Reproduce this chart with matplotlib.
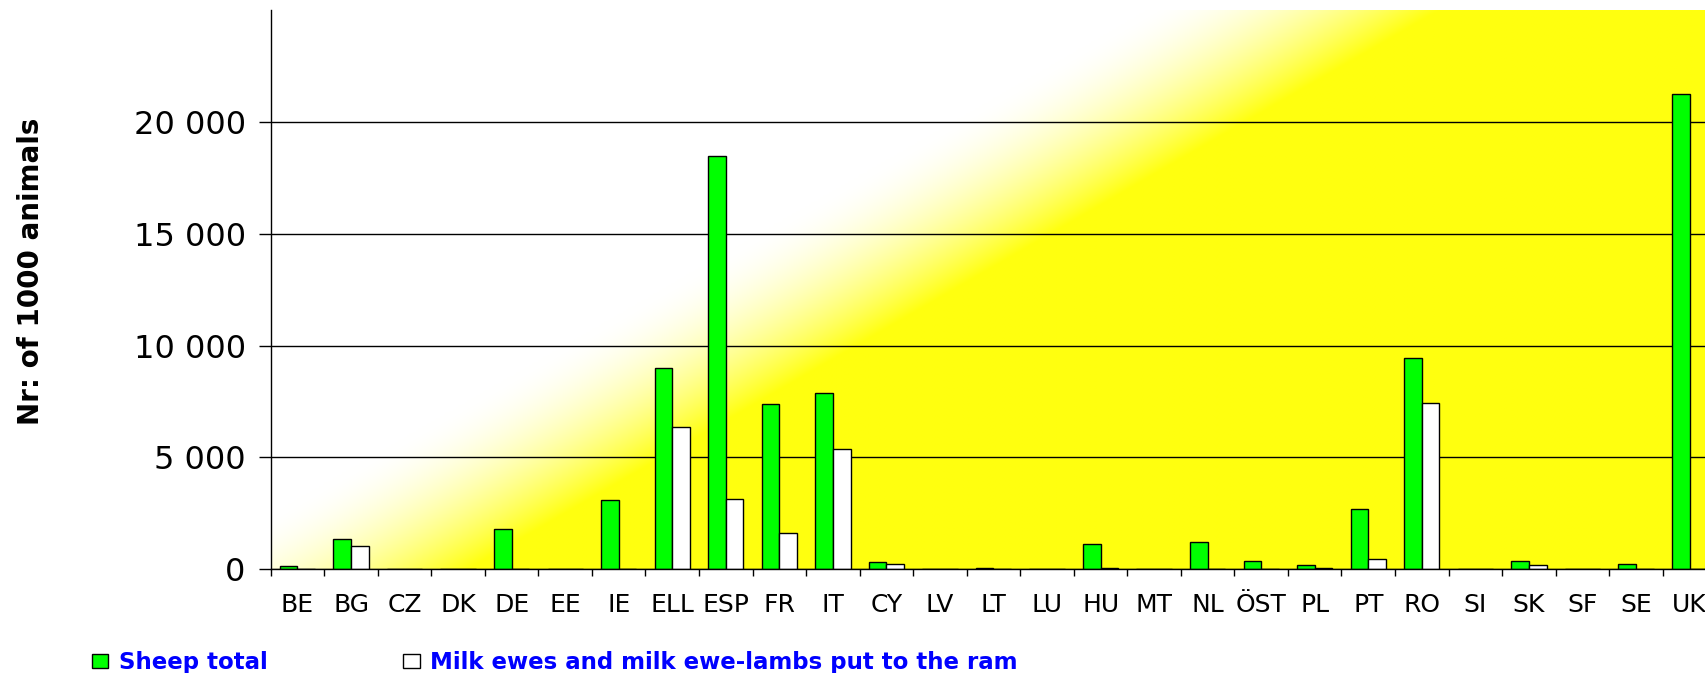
import numpy as np
import matplotlib
matplotlib.use("Agg")
import matplotlib.pyplot as plt
from matplotlib.patches import Patch

# data (1000 animals)
countries = ['BE', 'BG', 'CZ', 'DK', 'DE', 'EE', 'IE', 'ELL', 'ESP', 'FR', 'IT', 'CY', 'LV', 'LT',
             'LU', 'HU', 'MT', 'NL', 'ÖST', 'PL', 'PT', 'RO', 'SI', 'SK', 'SF', 'SE', 'UK']
sheep_total = [140, 1340, 0, 0, 1800, 0, 3080, 9000, 18470, 7390, 7890, 310, 0, 70,
               0, 1140, 0, 1220, 380, 190, 2700, 9440, 0, 380, 0, 250, 21260]
milk_ewes = [0, 1030, 0, 0, 0, 0, 0, 6370, 3140, 1610, 5390, 250, 0, 0,
             0, 70, 0, 0, 0, 70, 450, 7450, 0, 190, 0, 0, 0]
y_ticks = [0, 5000, 10000, 15000, 20000]
y_tick_labels = ['0', '5 000', '10 000', '15 000', '20 000']
legend_labels = ['Sheep total', 'Milk ewes and milk ewe-lambs put to the ram']

GREEN = '#00ff00'
YELLOW = np.array([255, 255, 15]) / 255.0

plt.rcParams['font.family'] = ['DejaVu Sans']

W, H = 1705, 673
fig = plt.figure(figsize=(W / 100, H / 100), dpi=100)
ax_l, ax_b = 270.7, 569.3          # pixel positions (from top for b)
cat_w = 53.54
ax_w = cat_w * len(countries)
ax_h = 559.4
ax = fig.add_axes([ax_l / W, 1 - ax_b / H, ax_w / W, ax_h / H])

# diagonal white -> yellow background
gx = np.linspace(0, ax_w, 800)
gy = np.linspace(0, ax_h, 320)
X, Y = np.meshgrid(gx, gy)
d = ((X - 59.3) * 553 - (Y - 4.3) * 960) / 1107.9
t = np.clip((d + 72) / 145, 0, 1) ** 1.7
t = t[..., None]
bg = (1 - t) * np.ones(3) + t * YELLOW
ax.imshow(bg, extent=(0, 1, 0, 1), transform=ax.transAxes, origin='lower',
          aspect='auto', zorder=0, interpolation='bilinear')

x = np.arange(len(countries))
bw = 0.33
ax.bar(x - bw / 2, sheep_total, bw, color=GREEN, edgecolor='black', linewidth=1.0, zorder=2)
ax.bar(x + bw / 2, milk_ewes, bw, color='white', edgecolor='black', linewidth=1.0, zorder=2)

ax.set_xlim(-0.5, len(countries) - 0.5)
ax.set_ylim(0, 25000)

ax.set_yticks(y_ticks)
ax.set_yticklabels(y_tick_labels, fontsize=23)
ax.tick_params(axis='y', direction='out', length=9, width=1.0, pad=9)
ax.set_xticks(x)
ax.set_xticklabels(countries, fontsize=18)
ax.set_xticks(np.arange(len(countries) + 1) - 0.5, minor=True)
ax.tick_params(axis='x', which='major', length=0, pad=17)
ax.tick_params(axis='x', which='minor', direction='out', length=5, width=1.0)

ax.yaxis.grid(True, color='black', linewidth=1.0)
for ln in ax.get_ygridlines():
    ln.set_zorder(1)
ax.spines['top'].set_visible(False)
ax.spines['right'].set_visible(False)
ax.spines['left'].set_linewidth(1.0)
ax.spines['bottom'].set_linewidth(1.0)
ax.spines['left'].set_zorder(3)
ax.spines['bottom'].set_zorder(3)

fig.text(31 / W, 1 - 271 / H, 'Nr: of 1000 animals', rotation=90, ha='center', va='center',
         fontsize=20, fontweight='bold')

handles = [Patch(facecolor=GREEN, edgecolor='black', linewidth=1.0),
           Patch(facecolor='white', edgecolor='black', linewidth=1.0)]
fig.legend(handles, legend_labels, loc='center left', bbox_to_anchor=(91.7 / W, 10.6 / H),
           ncol=2, frameon=False, borderpad=0, borderaxespad=0,
           handlelength=0.73, handleheight=0.57, handletextpad=0.44, columnspacing=5.94,
           labelcolor='#0000ff', prop={'weight': 'bold', 'size': 16.5})

fig.savefig('out.png', dpi=100)
